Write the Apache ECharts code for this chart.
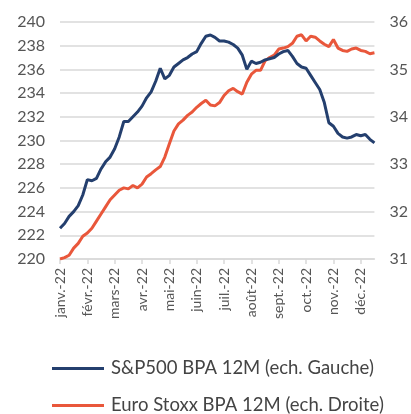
<!DOCTYPE html>
<html>
<head>
<meta charset="utf-8">
<script src="https://cdn.jsdelivr.net/npm/echarts@6/dist/echarts.min.js"></script>
<style>
  html, body { margin: 0; padding: 0; background: #fff; }
  #chart { width: 411px; height: 414px; }
</style>
</head>
<body>
<div id="chart"></div>
<script>
/* ===== données ===== */
// mois (étiquettes de l'axe X), 6 points par mois
const months = ['janv.-22', 'févr.-22', 'mars-22', 'avr.-22', 'mai-22', 'juin-22',
  'juil.-22', 'août-22', 'sept.-22', 'oct.-22', 'nov.-22', 'déc.-22'];
const perMonth = 6;

// S&P500 BPA 12M (échelle gauche)
const spx = [
  222.6, 223.0, 223.6, 224.0, 224.5, 225.4,
  226.7, 226.6, 226.8, 227.6, 228.2, 228.6,
  229.3, 230.3, 231.6, 231.6, 232.0, 232.4,
  232.9, 233.6, 234.1, 235.0, 236.1, 235.2,
  235.5, 236.2, 236.5, 236.8, 237.0, 237.3,
  237.5, 238.2, 238.8, 238.9, 238.7, 238.4,
  238.4, 238.3, 238.1, 237.8, 237.2, 236.0,
  236.7, 236.5, 236.6, 236.8, 236.9, 237.0,
  237.3, 237.5, 237.6, 237.1, 236.5, 236.2,
  236.1, 235.5, 234.9, 234.3, 233.2, 231.5,
  231.2, 230.6, 230.3, 230.2, 230.3, 230.5,
  230.4, 230.5, 230.1, 229.8
];

// Euro Stoxx BPA 12M (échelle droite)
const sxxe = [
  31.00, 31.03, 31.08, 31.23, 31.33, 31.48,
  31.55, 31.65, 31.80, 31.95, 32.10, 32.25,
  32.35, 32.45, 32.50, 32.48, 32.55, 32.50,
  32.58, 32.73, 32.80, 32.88, 32.95, 33.15,
  33.43, 33.70, 33.85, 33.93, 34.03, 34.10,
  34.20, 34.28, 34.35, 34.25, 34.23, 34.30,
  34.45, 34.55, 34.60, 34.53, 34.48, 34.73,
  34.90, 34.98, 34.98, 35.18, 35.25, 35.30,
  35.43, 35.45, 35.48, 35.55, 35.70, 35.73,
  35.60, 35.70, 35.68, 35.60, 35.53, 35.48,
  35.63, 35.45, 35.40, 35.38, 35.43, 35.45,
  35.40, 35.38, 35.33, 35.35
];

const categories = spx.map((_, i) => String(i));

/* ===== graphique ===== */
const chart = echarts.init(document.getElementById('chart'));
const txt = '#555';
const font = 'Lato';

chart.setOption({
  backgroundColor: '#fff',
  animation: false,
  grid: { left: 60, right: 29, top: 22, bottom: 155 },
  legend: {
    orient: 'vertical',
    left: 52,
    top: 359,
    height: 80,
    padding: 0,
    itemWidth: 52,
    itemHeight: 3,
    itemGap: 18,
    icon: 'rect',
    textStyle: { color: '#444', fontSize: 18.5, fontFamily: font, padding: [0, 0, 0, 2] },
    data: ['S&P500 BPA 12M (ech. Gauche)', 'Euro Stoxx BPA 12M (ech. Droite)']
  },
  xAxis: {
    type: 'category',
    data: categories,
    boundaryGap: false,
    axisLine: { lineStyle: { color: '#d9d9d9', width: 1.5 } },
    axisTick: { interval: perMonth - 1, length: 5, lineStyle: { color: '#d9d9d9', width: 1.5 } },
    axisLabel: {
      interval: perMonth - 1,
      rotate: 90,
      margin: 9,
      color: txt,
      fontSize: 14,
      fontFamily: font,
      formatter: (v, i) => (i % perMonth === 0 ? months[i / perMonth] : '')
    }
  },
  yAxis: [{
    type: 'value',
    min: 220, max: 240, interval: 2,
    axisLine: { show: false },
    axisTick: { show: false },
    splitLine: { lineStyle: { color: '#d9d9d9', width: 1.5 } },
    axisLabel: { color: txt, fontSize: 16, fontFamily: font, margin: 15 }
  }, {
    type: 'value',
    min: 31, max: 36, interval: 1,
    axisLine: { show: false },
    axisTick: { show: false },
    splitLine: { show: false },
    axisLabel: { color: txt, fontSize: 16, fontFamily: font, margin: 15 }
  }],
  series: [{
    name: 'S&P500 BPA 12M (ech. Gauche)',
    type: 'line',
    data: spx,
    yAxisIndex: 0,
    showSymbol: false,
    color: '#243f6e',
    lineStyle: { width: 3, color: '#243f6e' },
    z: 3
  }, {
    name: 'Euro Stoxx BPA 12M (ech. Droite)',
    type: 'line',
    data: sxxe,
    yAxisIndex: 1,
    showSymbol: false,
    color: '#e9573b',
    lineStyle: { width: 3, color: '#e9573b' },
    z: 2
  }]
});
</script>
</body>
</html>
